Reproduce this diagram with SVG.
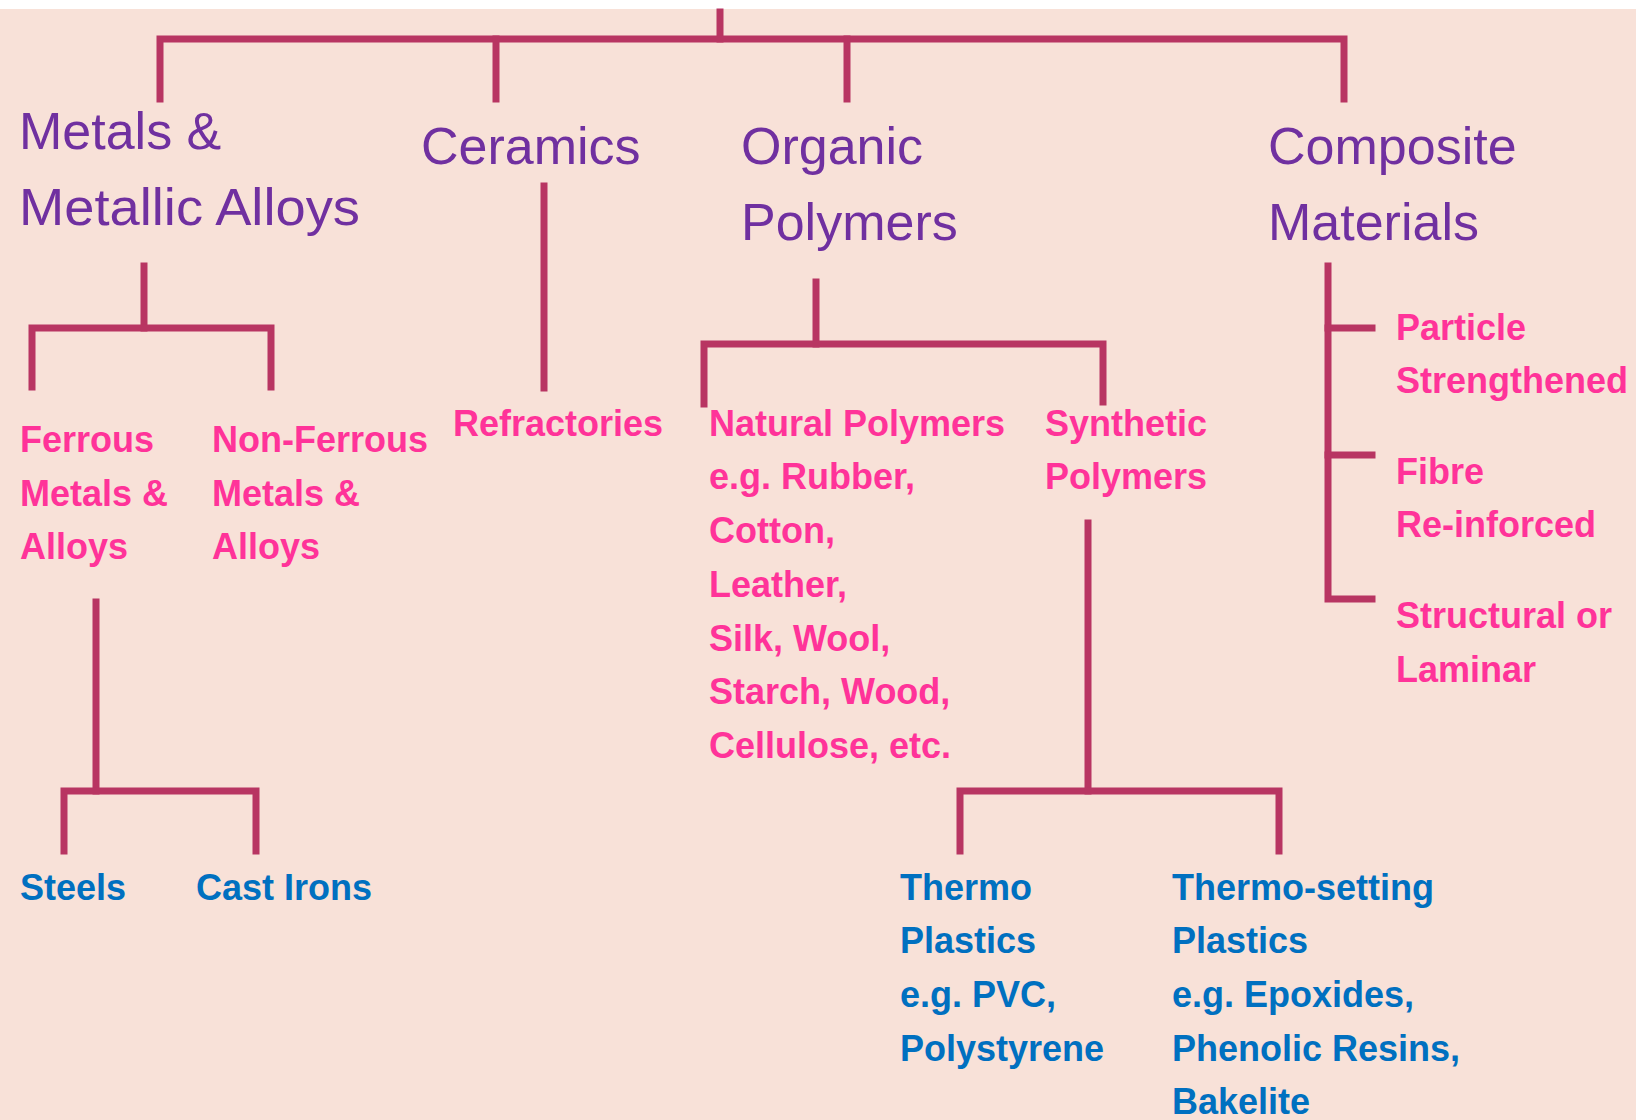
<svg xmlns="http://www.w3.org/2000/svg" width="1636" height="1120" viewBox="0 0 1636 1120">
<style>
.bg{fill:#F8E1D8}
.ln{stroke:#B83562;stroke-width:7;fill:none;stroke-linecap:square;stroke-linejoin:miter}
.h{font-family:"Liberation Sans",Arial,sans-serif;font-size:52px;fill:#7030A0}
.p{font-family:"Liberation Sans",Arial,sans-serif;font-size:36px;font-weight:bold;fill:#FF3399}
.b{font-family:"Liberation Sans",Arial,sans-serif;font-size:36px;font-weight:bold;fill:#0070C0}
</style>
<rect x="0" y="0" width="1636" height="1120" fill="#FFFFFF"/>
<rect class="bg" x="0" y="9" width="1636" height="1111"/>
<g id="connectors">
<path class="ln" d="M720 12 V39"/>
<path class="ln" d="M160 99 V39 H1344 V99"/>
<path class="ln" d="M496 39 V99"/>
<path class="ln" d="M847 39 V99"/>
<path class="ln" d="M144 266 V328"/>
<path class="ln" d="M32 387 V328 H271 V387"/>
<path class="ln" d="M544 186 V388"/>
<path class="ln" d="M816 282 V344"/>
<path class="ln" d="M704 404 V344 H1103 V402"/>
<path class="ln" d="M1328 266 V599 H1372"/>
<path class="ln" d="M1328 328 H1372"/>
<path class="ln" d="M1328 455 H1372"/>
<path class="ln" d="M96 602 V791"/>
<path class="ln" d="M64 851 V791 H256 V851"/>
<path class="ln" d="M1088 523 V791"/>
<path class="ln" d="M960 851 V791 H1279 V851"/>
</g>
<g id="metals"><text class="h" x="19" y="149">Metals &amp;</text><text class="h" x="19" y="225" textLength="341" lengthAdjust="spacingAndGlyphs">Metallic Alloys</text></g>
<g id="ceramics"><text class="h" x="421" y="164">Ceramics</text></g>
<g id="organic"><text class="h" x="741" y="164">Organic</text><text class="h" x="741" y="240">Polymers</text></g>
<g id="composite"><text class="h" x="1268" y="164">Composite</text><text class="h" x="1268" y="240">Materials</text></g>
<g id="ferrous"><text class="p" x="20" y="452">Ferrous</text><text class="p" x="20" y="506">Metals &amp;</text><text class="p" x="20" y="559">Alloys</text></g>
<g id="nonferrous"><text class="p" x="212" y="452">Non-Ferrous</text><text class="p" x="212" y="506">Metals &amp;</text><text class="p" x="212" y="559">Alloys</text></g>
<g id="refractories"><text class="p" x="453" y="436">Refractories</text></g>
<g id="natural"><text class="p" x="709" y="436">Natural Polymers</text><text class="p" x="709" y="489">e.g. Rubber,</text><text class="p" x="709" y="543">Cotton,</text><text class="p" x="709" y="597">Leather,</text><text class="p" x="709" y="651">Silk, Wool,</text><text class="p" x="709" y="704">Starch, Wood,</text><text class="p" x="709" y="758">Cellulose, etc.</text></g>
<g id="synthetic"><text class="p" x="1045" y="436">Synthetic</text><text class="p" x="1045" y="489">Polymers</text></g>
<g id="particle"><text class="p" x="1396" y="340">Particle</text><text class="p" x="1396" y="393">Strengthened</text></g>
<g id="fibre"><text class="p" x="1396" y="484">Fibre</text><text class="p" x="1396" y="537">Re-inforced</text></g>
<g id="structural"><text class="p" x="1396" y="628">Structural or</text><text class="p" x="1396" y="682">Laminar</text></g>
<g id="steels"><text class="b" x="20" y="900">Steels</text></g>
<g id="castirons"><text class="b" x="196" y="900">Cast Irons</text></g>
<g id="thermoplastics"><text class="b" x="900" y="900">Thermo</text><text class="b" x="900" y="953">Plastics</text><text class="b" x="900" y="1007">e.g. PVC,</text><text class="b" x="900" y="1061">Polystyrene</text></g>
<g id="thermosetting"><text class="b" x="1172" y="900">Thermo-setting</text><text class="b" x="1172" y="953">Plastics</text><text class="b" x="1172" y="1007">e.g. Epoxides,</text><text class="b" x="1172" y="1061">Phenolic Resins,</text><text class="b" x="1172" y="1114">Bakelite</text></g>
</svg>
